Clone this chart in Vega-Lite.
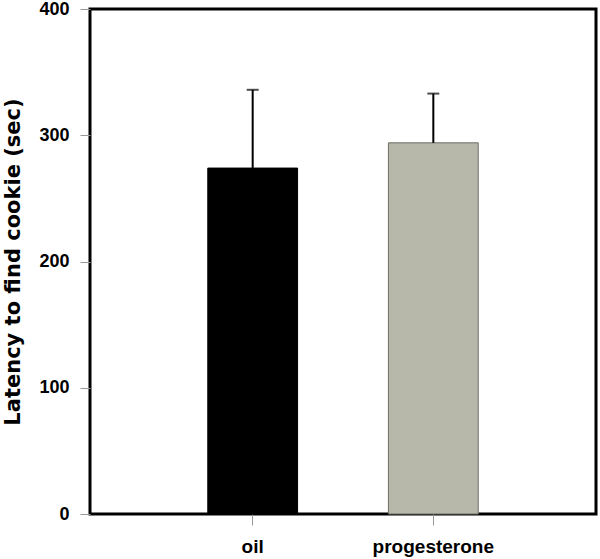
{
  "$schema": "https://vega.github.io/schema/vega-lite/v6.json",
  "autosize": "none",
  "width": 506,
  "height": 505,
  "padding": {"left": 90, "top": 9, "right": 4, "bottom": 45},
  "background": "white",
  "config": {
    "view": {"stroke": "black", "strokeWidth": 3},
    "font": "Liberation Sans"
  },
  "data": {"values": [
    {"group": "oil", "latency": 274, "upper": 336},
    {"group": "progesterone", "latency": 294, "upper": 333}
  ]},
  "encoding": {
    "x": {
      "field": "group", "type": "nominal", "sort": null,
      "scale": {"paddingInner": 0.503, "paddingOuter": 0.652},
      "axis": {
        "title": null, "labelAngle": 0, "domain": false,
        "tickColor": "#999999", "tickSize": 11, "tickWidth": 1,
        "labelFont": "Liberation Sans", "labelFontSize": 19, "labelFontWeight": "bold",
        "labelColor": "black", "labelPadding": 12
      }
    }
  },
  "layer": [
    {
      "mark": {"type": "bar", "strokeWidth": 1},
      "encoding": {
        "y": {
          "field": "latency", "type": "quantitative",
          "scale": {"domain": [0, 400], "nice": false},
          "axis": {
            "title": "Latency to find cookie (sec)",
            "titleFont": "DejaVu Sans", "titleFontSize": 21, "titleFontWeight": "bold",
            "titleColor": "black", "titlePadding": 15,
            "values": [0, 100, 200, 300, 400], "grid": false, "domain": false,
            "tickColor": "#999999", "tickSize": 10, "tickWidth": 1,
            "labelFont": "Liberation Sans", "labelFontSize": 18, "labelFontWeight": "bold",
            "labelColor": "black", "labelPadding": 11
          }
        },
        "color": {
          "field": "group", "type": "nominal",
          "scale": {"domain": ["oil", "progesterone"], "range": ["#000000", "#b7b7aa"]},
          "legend": null
        },
        "stroke": {
          "field": "group", "type": "nominal",
          "scale": {"domain": ["oil", "progesterone"], "range": ["#000000", "#6e6e66"]},
          "legend": null
        }
      }
    },
    {
      "mark": {"type": "rule", "color": "black", "strokeWidth": 2},
      "encoding": {
        "y": {"field": "latency", "type": "quantitative"},
        "y2": {"field": "upper"}
      }
    },
    {
      "mark": {"type": "tick", "color": "black", "size": 12, "thickness": 2, "orient": "horizontal"},
      "encoding": {
        "y": {"field": "upper", "type": "quantitative"}
      }
    }
  ]
}
